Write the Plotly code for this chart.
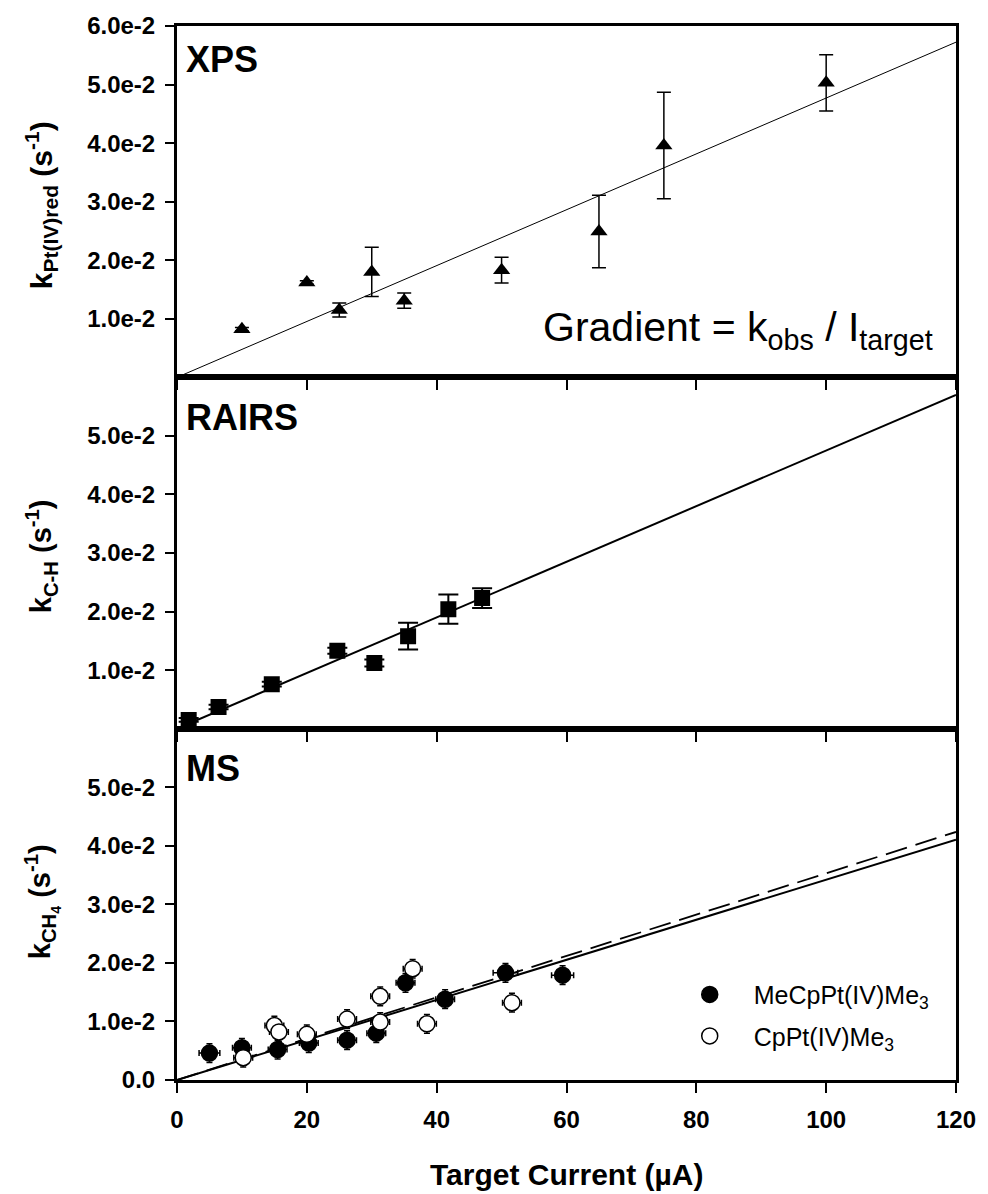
import plotly.graph_objects as go
from plotly.subplots import make_subplots

# ---------------- data ----------------
xps_x = [10, 20, 25, 30, 35, 50, 65, 75, 100]
xps_y = [0.0082, 0.0162, 0.0115, 0.0180, 0.0131, 0.0183, 0.0249, 0.0396, 0.0503]
xps_err = [0.0003, 0.0003, 0.0012, 0.0042, 0.0013, 0.0022, 0.0062, 0.0091, 0.0048]
xps_slope = 4.77e-4

rairs_x = [1.8, 6.4, 14.6, 24.7, 30.4, 35.6, 41.8, 47.0]
rairs_y = [0.0015, 0.0037, 0.0076, 0.0133, 0.0112, 0.0158, 0.0204, 0.0223]
rairs_err = [0.0003, 0.0004, 0.0004, 0.0005, 0.0006, 0.0023, 0.0025, 0.0017]
rairs_slope = 4.75e-4

ms_me_x = [5.0, 10.0, 15.5, 20.3, 26.2, 30.7, 35.2, 41.3, 50.6, 59.4]
ms_me_y = [0.0046, 0.0055, 0.0052, 0.0063, 0.0068, 0.0080, 0.0166, 0.0138, 0.0183, 0.0179]
ms_me_xerr = [1.6, 1.45, 1.45, 1.45, 1.45, 1.45, 1.45, 1.45, 1.9, 1.7]
ms_me_yerr = [0.0016, 0.0016, 0.0016, 0.0016, 0.0016, 0.0016, 0.0016, 0.0016, 0.0016, 0.0016]
ms_me_slope = 3.42e-4

ms_cp_x = [10.2, 15.0, 15.7, 20.0, 26.2, 31.3, 31.3, 36.3, 38.5, 51.6]
ms_cp_y = [0.0038, 0.0093, 0.0082, 0.0078, 0.0104, 0.0143, 0.0099, 0.0190, 0.0096, 0.0132]
ms_cp_xerr = [1.45, 1.45, 1.45, 1.45, 1.45, 1.45, 1.45, 1.45, 1.45, 1.45]
ms_cp_yerr = [0.0016, 0.0016, 0.0016, 0.0016, 0.0016, 0.0016, 0.0016, 0.0016, 0.0016, 0.0016]
ms_cp_slope = 3.53e-4

fit_x = [0, 120]
x_ticks = [0, 20, 40, 60, 80, 100, 120]
y_ticks_top = [0.01, 0.02, 0.03, 0.04, 0.05, 0.06]
y_text_top = ["1.0e-2", "2.0e-2", "3.0e-2", "4.0e-2", "5.0e-2", "6.0e-2"]
y_ticks_mid = [0.01, 0.02, 0.03, 0.04, 0.05]
y_text_mid = ["1.0e-2", "2.0e-2", "3.0e-2", "4.0e-2", "5.0e-2"]
y_ticks_bot = [0.0, 0.01, 0.02, 0.03, 0.04, 0.05]
y_text_bot = ["0.0", "1.0e-2", "2.0e-2", "3.0e-2", "4.0e-2", "5.0e-2"]

FONT = "Liberation Sans, Arial, sans-serif"

fig = make_subplots(rows=3, cols=1, shared_xaxes=True, vertical_spacing=0)

# ---- XPS ----
fig.add_trace(go.Scatter(x=fit_x, y=[xps_slope * v for v in fit_x], mode="lines",
                         line=dict(color="black", width=1), showlegend=False), row=1, col=1)
fig.add_trace(go.Scatter(x=xps_x, y=xps_y, mode="markers",
                         marker=dict(symbol="triangle-up", size=15, color="black"),
                         error_y=dict(type="data", array=xps_err, color="black", thickness=1.5, width=7),
                         showlegend=False), row=1, col=1)

# ---- RAIRS ----
fig.add_trace(go.Scatter(x=fit_x, y=[rairs_slope * v for v in fit_x], mode="lines",
                         line=dict(color="black", width=2), showlegend=False), row=2, col=1)
fig.add_trace(go.Scatter(x=rairs_x, y=rairs_y, mode="markers",
                         marker=dict(symbol="square", size=16, color="black"),
                         error_y=dict(type="data", array=rairs_err, color="black", thickness=2, width=10),
                         showlegend=False), row=2, col=1)

# ---- MS ----
fig.add_trace(go.Scatter(x=fit_x, y=[ms_cp_slope * v for v in fit_x], mode="lines",
                         line=dict(color="black", width=1.8, dash="22px,9px"), showlegend=False), row=3, col=1)
fig.add_trace(go.Scatter(x=fit_x, y=[ms_me_slope * v for v in fit_x], mode="lines",
                         line=dict(color="black", width=2), showlegend=False), row=3, col=1)
fig.add_trace(go.Scatter(x=ms_me_x, y=ms_me_y, mode="markers", name="MeCpPt(IV)Me<sub>3</sub>",
                         legendgroup="a",
                         marker=dict(symbol="circle", size=16, color="black",
                                     line=dict(color="black", width=1.5)),
                         error_y=dict(type="data", array=ms_me_yerr, color="black", thickness=1.5, width=3),
                         error_x=dict(type="data", array=ms_me_xerr, color="black", thickness=1.5, width=3)),
              row=3, col=1)
fig.add_trace(go.Scatter(x=ms_cp_x, y=ms_cp_y, mode="markers", name="CpPt(IV)Me<sub>3</sub>",
                         legendgroup="b",
                         marker=dict(symbol="circle", size=16, color="white",
                                     line=dict(color="black", width=1.5)),
                         error_y=dict(type="data", array=ms_cp_yerr, color="black", thickness=1.5, width=3),
                         error_x=dict(type="data", array=ms_cp_xerr, color="black", thickness=1.5, width=3)),
              row=3, col=1)

axis_common = dict(showline=True, linewidth=3, linecolor="black", mirror=True,
                   showgrid=False, zeroline=False, ticks="outside", tickcolor="black")

for r in (1, 2, 3):
    fig.update_xaxes(range=[0, 120], tickvals=x_ticks, ticklen=10, tickwidth=2,
                     showticklabels=(r == 3), row=r, col=1, **axis_common)

fig.update_xaxes(ticktext=["<b>%d</b>" % v for v in x_ticks], ticklabelstandoff=6,
                 tickfont=dict(family=FONT, size=24, color="black"), row=3, col=1)

fig.update_yaxes(range=[0, 0.06], ticklen=9, tickwidth=2, ticklabelstandoff=5,
                 tickfont=dict(family=FONT, size=24, color="black"), **axis_common)
fig.update_yaxes(tickvals=y_ticks_top, ticktext=["<b>%s</b>" % t for t in y_text_top], row=1, col=1)
fig.update_yaxes(tickvals=y_ticks_mid, ticktext=["<b>%s</b>" % t for t in y_text_mid], row=2, col=1)
fig.update_yaxes(tickvals=y_ticks_bot, ticktext=["<b>%s</b>" % t for t in y_text_bot], row=3, col=1)

W, H = 988, 1194
L, R, T, B = 177, 22, 23, 114
pw, ph = W - L - R, H - T - B

def px(xpix):
    return (xpix - L) / pw

def py(ypix):
    return (H - B - ypix) / ph

ann = []
# panel labels
for label, ypix in (("XPS", 57), ("RAIRS", 416), ("MS", 768)):
    ann.append(dict(text="<b>%s</b>" % label, x=px(184), y=py(ypix), xref="paper", yref="paper",
                    xanchor="left", yanchor="middle", showarrow=False,
                    font=dict(family=FONT, size=36, color="black")))
# gradient text
ann.append(dict(text="Gradient = k<sub>obs</sub> / I<sub>target</sub>", x=px(945), y=py(328),
                xref="paper", yref="paper", xanchor="right", yanchor="middle", showarrow=False,
                font=dict(family=FONT, size=41, color="black")))
# y titles
for txt, ypix, sz in (("<b>k<sub>Pt(IV)red</sub> (s<sup>-1</sup>)</b>", 203, 30),
                      ("<b>k<sub>C-H</sub> (s<sup>-1</sup>)</b>", 555, 29),
                      ("<b>k<sub>CH<sub>4</sub></sub> (s<sup>-1</sup>)</b>", 901, 29)):
    ann.append(dict(text=txt, x=px(40), y=py(ypix), xref="paper", yref="paper",
                    xanchor="center", yanchor="middle", textangle=-90, showarrow=False,
                    font=dict(family=FONT, size=sz, color="black")))
# x title
ann.append(dict(text="<b>Target Current (\u00b5A)</b>", x=px(571), y=py(1175), xref="paper", yref="paper",
                xanchor="center", yanchor="middle", showarrow=False,
                font=dict(family=FONT, size=30, color="black")))

fig.update_layout(
    width=W, height=H,
    margin=dict(l=L, r=R, t=T, b=B),
    paper_bgcolor="white", plot_bgcolor="white",
    annotations=ann,
    showlegend=True,
    legend=dict(x=px(672), y=py(1015), xanchor="left", yanchor="middle",
                bgcolor="rgba(0,0,0,0)", itemwidth=78, tracegroupgap=6,
                font=dict(family=FONT, size=25, color="black")),
)

fig.write_html("out.html")
